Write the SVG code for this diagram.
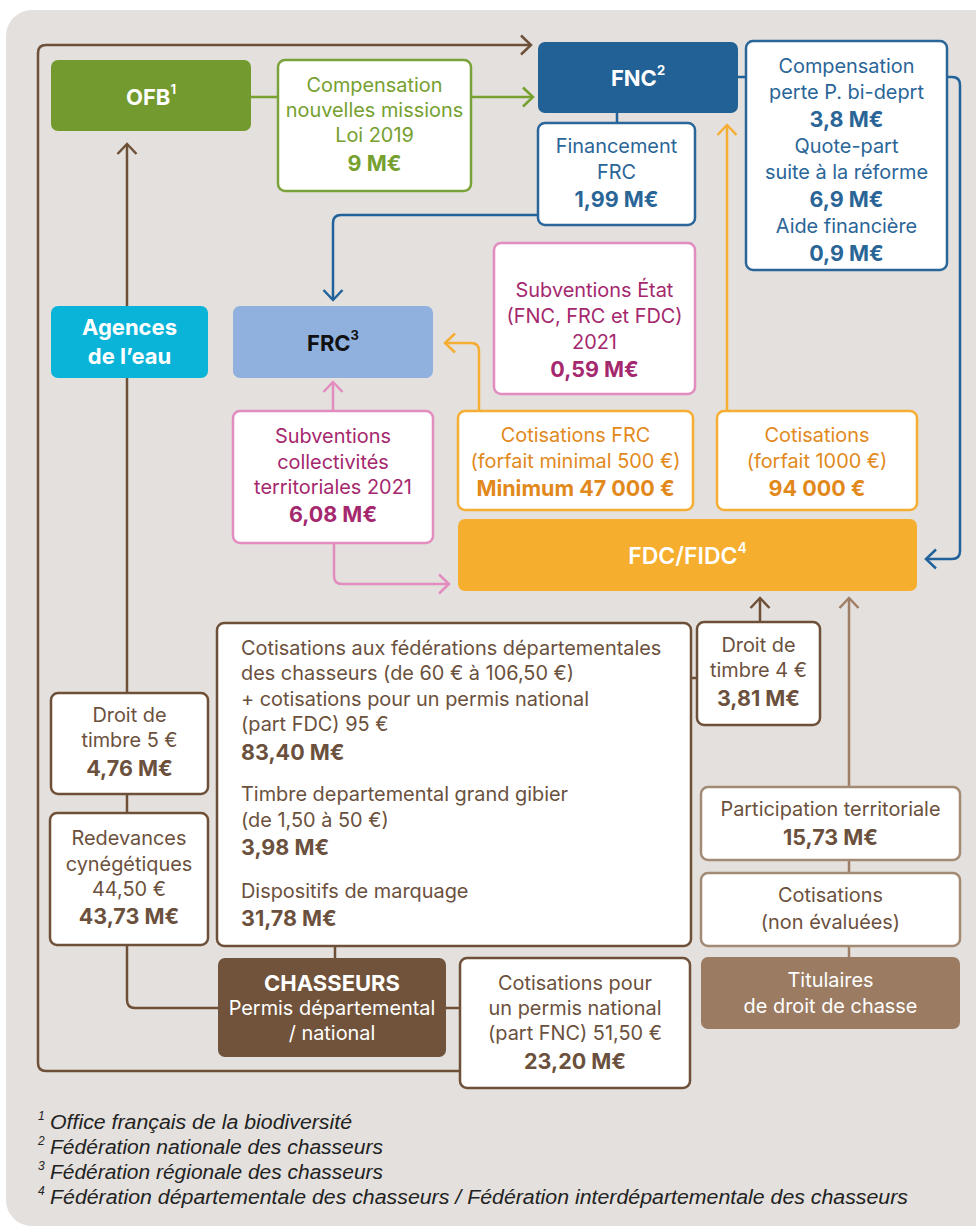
<svg xmlns="http://www.w3.org/2000/svg" width="976" height="1229" viewBox="0 0 976 1229">
<defs>
<style>
.c{fill:none;stroke-width:2.5;stroke-linecap:butt;stroke-linejoin:round}
.br{stroke:#6e5038}
.lb{stroke:#9e7e66}
.gr{stroke:#76a02f}
.bl{stroke:#22629a}
.or{stroke:#f5ae33}
.pk{stroke:#e38cc0}
text{font-family:Inter,"Open Sans",sans-serif;text-anchor:middle;dominant-baseline:central;font-size:19.9px}
.v{font-weight:700;font-size:21.5px}
.h{font-weight:700;font-size:22px;fill:#fff}
.w{fill:#fff;stroke-width:2.5}
.tg{fill:#76a02f}.tb{fill:#2a6597}.tp{fill:#a5286e}.to{fill:#e2891c}.tbr{fill:#6b513d}
.bx-g{stroke:#7aa23a}.bx-b{stroke:#2a6699}.bx-p{stroke:#e38cc0}.bx-o{stroke:#f5ae33}.bx-br{stroke:#6e5038}.bx-lb{stroke:#a38a75}
.fn{font-family:"Liberation Sans",Arial,sans-serif;font-style:italic;text-anchor:start;font-size:20px;fill:#222}
.sup{font-family:"Liberation Sans",Arial,sans-serif;font-style:italic;text-anchor:start;font-size:12px;fill:#222}
.l{text-anchor:start}
</style>
<marker id="m-br" markerUnits="userSpaceOnUse" markerWidth="26" markerHeight="26" viewBox="-13 -13 26 26" refX="0" refY="0" orient="auto" overflow="visible"><path d="M-10,-9.5 L0,0 L-10,9.5" fill="none" stroke="#6e5038" stroke-width="2.5"/></marker>
<marker id="m-lb" markerUnits="userSpaceOnUse" markerWidth="26" markerHeight="26" viewBox="-13 -13 26 26" refX="0" refY="0" orient="auto" overflow="visible"><path d="M-10,-9.5 L0,0 L-10,9.5" fill="none" stroke="#9e7e66" stroke-width="2.5"/></marker>
<marker id="m-gr" markerUnits="userSpaceOnUse" markerWidth="26" markerHeight="26" viewBox="-13 -13 26 26" refX="0" refY="0" orient="auto" overflow="visible"><path d="M-10,-9.5 L0,0 L-10,9.5" fill="none" stroke="#76a02f" stroke-width="2.5"/></marker>
<marker id="m-bl" markerUnits="userSpaceOnUse" markerWidth="26" markerHeight="26" viewBox="-13 -13 26 26" refX="0" refY="0" orient="auto" overflow="visible"><path d="M-10,-9.5 L0,0 L-10,9.5" fill="none" stroke="#22629a" stroke-width="2.5"/></marker>
<marker id="m-or" markerUnits="userSpaceOnUse" markerWidth="26" markerHeight="26" viewBox="-13 -13 26 26" refX="0" refY="0" orient="auto" overflow="visible"><path d="M-10,-9.5 L0,0 L-10,9.5" fill="none" stroke="#f5ae33" stroke-width="2.5"/></marker>
<marker id="m-pk" markerUnits="userSpaceOnUse" markerWidth="26" markerHeight="26" viewBox="-13 -13 26 26" refX="0" refY="0" orient="auto" overflow="visible"><path d="M-10,-9.5 L0,0 L-10,9.5" fill="none" stroke="#e38cc0" stroke-width="2.5"/></marker>
</defs>

<rect x="6" y="10" width="1010" height="1216" rx="26" fill="#e3e0dd"/>

<g id="connectors">
<path class="c br" d="M460,1071 H46 Q38,1071 38,1063 V53 Q38,45 46,45 H531" marker-end="url(#m-br)"/>
<path class="c gr" d="M251,97 H278"/>
<path class="c gr" d="M471,97 H533" marker-end="url(#m-gr)"/>
<path class="c br" d="M127,693 V144" marker-end="url(#m-br)"/>
<path class="c br" d="M127,794 V813"/>
<path class="c br" d="M127,945 V1000 Q127,1008 135,1008 H218"/>
<path class="c br" d="M335,946 V958"/>
<path class="c br" d="M446,1008 H460"/>
<path class="c br" d="M691,678 H697"/>
<path class="c br" d="M760,622 V598" marker-end="url(#m-br)"/>
<path class="c lb" d="M849,787 V598" marker-end="url(#m-lb)"/>
<path class="c lb" d="M849,860 V873"/>
<path class="c lb" d="M849,946 V957"/>
<path class="c bl" d="M617,112 V123"/>
<path class="c bl" d="M538,215 H341 Q333,215 333,223 V300" marker-end="url(#m-bl)"/>
<path class="c bl" d="M738,77 H746"/>
<path class="c bl" d="M947,77 H952 Q960,77 960,85 V551 Q960,559 952,559 H926" marker-end="url(#m-bl)"/>
<path class="c or" d="M479,411 V351 Q479,343 471,343 H445" marker-end="url(#m-or)"/>
<path class="c or" d="M727,411 V125" marker-end="url(#m-or)"/>
<path class="c pk" d="M333,411 V382" marker-end="url(#m-pk)"/>
<path class="c pk" d="M334,543 V576 Q334,584 342,584 H449" marker-end="url(#m-pk)"/>
</g>

<g id="ofb">
<rect x="51" y="60" width="200" height="71" rx="7" fill="#739a2e"/>
<text class="h" x="151" y="97">OFB<tspan font-size="13" dy="-8">1</tspan></text>
</g>

<g id="compensation-missions">
<rect class="w bx-g" x="278" y="60" width="193" height="131" rx="7"/>
<text class="tg" x="374.5" y="85">Compensation</text>
<text class="tg" x="374.5" y="110">nouvelles missions</text>
<text class="tg" x="374.5" y="135">Loi 2019</text>
<text class="tg v" x="374.5" y="163">9 M€</text>
</g>

<g id="fnc">
<rect x="538" y="42" width="200" height="71" rx="7" fill="#216196"/>
<text class="h" x="638" y="78">FNC<tspan font-size="13" dy="-8">2</tspan></text>
</g>

<g id="financement-frc">
<rect class="w bx-b" x="538" y="123" width="157" height="102" rx="7"/>
<text class="tb" x="616.5" y="146">Financement</text>
<text class="tb" x="616.5" y="172">FRC</text>
<text class="tb v" x="616.5" y="199">1,99 M€</text>
</g>

<g id="fnc-aides">
<rect class="w bx-b" x="746" y="41" width="201" height="229" rx="7"/>
<text class="tb" x="846.5" y="66">Compensation</text>
<text class="tb" x="846.5" y="92">perte P. bi-deprt</text>
<text class="tb v" x="846.5" y="119">3,8 M€</text>
<text class="tb" x="846.5" y="146">Quote-part</text>
<text class="tb" x="846.5" y="172">suite à la réforme</text>
<text class="tb v" x="846.5" y="199">6,9 M€</text>
<text class="tb" x="846.5" y="226">Aide financière</text>
<text class="tb v" x="846.5" y="253">0,9 M€</text>
</g>

<g id="agences">
<rect x="51" y="306" width="157" height="72" rx="7" fill="#0ab4d8"/>
<text class="h" x="129.5" y="327">Agences</text>
<text class="h" x="129.5" y="356">de l’eau</text>
</g>

<g id="frc">
<rect x="233" y="306" width="200" height="72" rx="7" fill="#90b0dd"/>
<text class="h" x="333" y="343" style="fill:#111">FRC<tspan font-size="13" dy="-8">3</tspan></text>
</g>

<g id="subv-etat">
<rect class="w bx-p" x="494" y="243" width="201" height="151" rx="7"/>
<text class="tp" x="594.5" y="290">Subventions État</text>
<text class="tp" x="594.5" y="316">(FNC, FRC et FDC)</text>
<text class="tp" x="594.5" y="342">2021</text>
<text class="tp v" x="594.5" y="369">0,59 M€</text>
</g>

<g id="subv-coll">
<rect class="w bx-p" x="233" y="411" width="200" height="132" rx="7"/>
<text class="tp" x="333" y="436">Subventions</text>
<text class="tp" x="333" y="462">collectivités</text>
<text class="tp" x="333" y="487">territoriales 2021</text>
<text class="tp v" x="333" y="514">6,08 M€</text>
</g>

<g id="cot-frc">
<rect class="w bx-o" x="458" y="411" width="235" height="99" rx="7"/>
<text class="to" x="575.5" y="435">Cotisations FRC</text>
<text class="to" x="575.5" y="461">(forfait minimal 500 €)</text>
<text class="to v" x="575.5" y="488">Minimum 47 000 €</text>
</g>

<g id="cot-1000">
<rect class="w bx-o" x="717" y="411" width="200" height="99" rx="7"/>
<text class="to" x="817" y="435">Cotisations</text>
<text class="to" x="817" y="461">(forfait 1000 €)</text>
<text class="to v" x="817" y="488">94 000 €</text>
</g>

<g id="fdc">
<rect x="458" y="519" width="459" height="72" rx="7" fill="#f6ae2e"/>
<text x="687.5" y="556" style="fill:#fff;font-size:23px;font-weight:600">FDC/FIDC<tspan font-size="14" dy="-9">4</tspan></text>
</g>

<g id="droit-5">
<rect class="w bx-br" x="51" y="693" width="157" height="101" rx="7"/>
<text class="tbr" x="129.5" y="715">Droit de</text>
<text class="tbr" x="129.5" y="740">timbre 5 €</text>
<text class="tbr v" x="129.5" y="768">4,76 M€</text>
</g>

<g id="redevances">
<rect class="w bx-br" x="50" y="813" width="158" height="132" rx="7"/>
<text class="tbr" x="129" y="838">Redevances</text>
<text class="tbr" x="129" y="864">cynégétiques</text>
<text class="tbr" x="129" y="889">44,50 €</text>
<text class="tbr v" x="129" y="916">43,73 M€</text>
</g>

<g id="cotisations-fdc">
<rect class="w bx-br" x="217" y="623" width="474" height="323" rx="7"/>
<text class="tbr l" x="241" y="648">Cotisations aux fédérations départementales</text>
<text class="tbr l" x="241" y="673">des chasseurs (de 60 € à 106,50 €)</text>
<text class="tbr l" x="241" y="699">+ cotisations pour un permis national</text>
<text class="tbr l" x="241" y="724">(part FDC) 95 €</text>
<text class="tbr v l" x="241" y="752">83,40 M€</text>
<text class="tbr l" x="241" y="794">Timbre departemental grand gibier</text>
<text class="tbr l" x="241" y="820">(de 1,50 à 50 €)</text>
<text class="tbr v l" x="241" y="847">3,98 M€</text>
<text class="tbr l" x="241" y="891">Dispositifs de marquage</text>
<text class="tbr v l" x="241" y="918">31,78 M€</text>
</g>

<g id="droit-4">
<rect class="w bx-br" x="697" y="622" width="123" height="103" rx="7"/>
<text class="tbr" x="758.5" y="645">Droit de</text>
<text class="tbr" x="758.5" y="670">timbre 4 €</text>
<text class="tbr v" x="758.5" y="698">3,81 M€</text>
</g>

<g id="participation">
<rect class="w bx-lb" x="701" y="787" width="259" height="73" rx="7"/>
<text class="tbr" x="830.5" y="809">Participation territoriale</text>
<text class="tbr v" x="830.5" y="837">15,73 M€</text>
</g>

<g id="cot-non-evaluees">
<rect class="w bx-lb" x="701" y="873" width="259" height="73" rx="7"/>
<text class="tbr" x="830.5" y="895">Cotisations</text>
<text class="tbr" x="830.5" y="922">(non évaluées)</text>
</g>

<g id="titulaires">
<rect x="701" y="957" width="259" height="72" rx="7" fill="#9b7b62"/>
<text x="830.5" y="980" style="fill:#fff">Titulaires</text>
<text x="830.5" y="1006" style="fill:#fff">de droit de chasse</text>
</g>

<g id="chasseurs">
<rect x="218" y="958" width="228" height="99" rx="7" fill="#70533a"/>
<text class="h" x="332" y="983" style="font-size:22px">CHASSEURS</text>
<text x="332" y="1008" style="fill:#fff">Permis départemental</text>
<text x="332" y="1033" style="fill:#fff">/ national</text>
</g>

<g id="cot-fnc">
<rect class="w bx-br" x="460" y="958" width="230" height="130" rx="7"/>
<text class="tbr" x="575" y="983">Cotisations pour</text>
<text class="tbr" x="575" y="1008">un permis national</text>
<text class="tbr" x="575" y="1033">(part FNC) 51,50 €</text>
<text class="tbr v" x="575" y="1061">23,20 M€</text>
</g>

<g id="footnotes">
<text class="sup" x="38" y="1116">1</text>
<text class="fn" x="50" y="1122" textLength="302" lengthAdjust="spacingAndGlyphs">Office français de la biodiversité</text>
<text class="sup" x="38" y="1141">2</text>
<text class="fn" x="50" y="1147" textLength="333" lengthAdjust="spacingAndGlyphs">Fédération nationale des chasseurs</text>
<text class="sup" x="38" y="1166">3</text>
<text class="fn" x="50" y="1172" textLength="333" lengthAdjust="spacingAndGlyphs">Fédération régionale des chasseurs</text>
<text class="sup" x="38" y="1191">4</text>
<text class="fn" x="50" y="1197" textLength="858" lengthAdjust="spacingAndGlyphs">Fédération départementale des chasseurs / Fédération interdépartementale des chasseurs</text>
</g>
</svg>
